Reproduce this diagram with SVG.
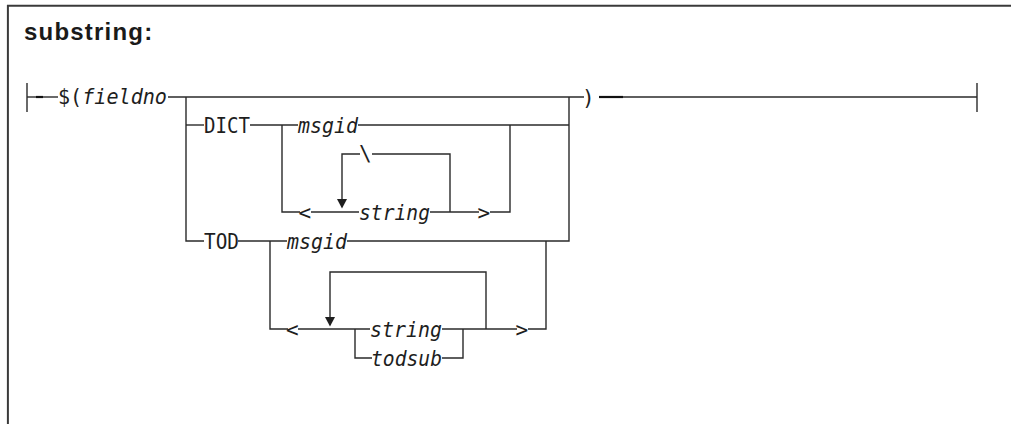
<svg xmlns="http://www.w3.org/2000/svg" width="1011" height="424" viewBox="0 0 1011 424">
<style>
.frame{stroke:#3a3a3a;stroke-width:2;fill:none}
.ln{stroke:#2a2a2a;stroke-width:1.4;fill:none}
.dash{stroke:#111;stroke-width:2.2;fill:none}
.t{font-family:"DejaVu Sans Mono","Liberation Mono",monospace;font-size:21px;fill:#1e1e1e}
.i{font-style:italic}
.title{font-family:"Liberation Sans",Arial,sans-serif;font-weight:bold;font-size:24px;letter-spacing:1.2px;fill:#1a1a1a}
.arr{fill:#1e1e1e}
</style>
<rect width="1011" height="424" fill="#fff"/>
<g id="frame">
<line class="frame" x1="7" y1="5.7" x2="1011" y2="5.7"/>
<line class="frame" x1="7.9" y1="5" x2="7.9" y2="424"/>
</g>
<g id="title"><text class="title" x="24" y="39.5">substring:</text></g>
<g id="connectors">
<line class="ln" x1="27" y1="83" x2="27" y2="112"/>
<line class="ln" x1="27" y1="97" x2="58" y2="97"/>
<line class="dash" x1="36" y1="97" x2="43" y2="97"/>
<line class="ln" x1="168" y1="97" x2="584" y2="97"/>
<line class="dash" x1="599" y1="97" x2="623" y2="97"/>
<line class="ln" x1="623" y1="97" x2="977" y2="97"/>
<line class="ln" x1="977" y1="83" x2="977" y2="112"/>
<polyline class="ln" points="186,97 186,241 204,241"/>
<polyline class="ln" points="569,97 569,241 347,241"/>
<line class="ln" x1="186" y1="125" x2="204" y2="125"/>
<line class="ln" x1="250" y1="125" x2="298" y2="125"/>
<line class="ln" x1="358" y1="125" x2="569" y2="125"/>
<polyline class="ln" points="282,125 282,212 300,212"/>
<line class="ln" x1="311" y1="212" x2="359" y2="212"/>
<line class="ln" x1="430" y1="212" x2="479" y2="212"/>
<polyline class="ln" points="490,212 510,212 510,125"/>
<polyline class="ln" points="342,199 342,154 360,154"/>
<polyline class="ln" points="372,154 450,154 450,212"/>
<polygon class="arr" points="337,199 347,199 342,208.5"/>
<line class="ln" x1="238" y1="241" x2="287" y2="241"/>
<polyline class="ln" points="270,241 270,329 288,329"/>
<line class="ln" x1="298" y1="329" x2="370" y2="329"/>
<polyline class="ln" points="355,329 355,358 372,358"/>
<polyline class="ln" points="442,358 463,358 463,329"/>
<line class="ln" x1="442" y1="329" x2="517" y2="329"/>
<polyline class="ln" points="528,329 546,329 546,241"/>
<polyline class="ln" points="330,317 330,272 486,272 486,329"/>
<polygon class="arr" points="325,317 335,317 330,326.5"/>
</g>
<g id="n-fieldno"><text class="t" x="58" y="104" textLength="109" lengthAdjust="spacingAndGlyphs">$(<tspan class="i">fieldno</tspan></text></g>
<g id="n-close"><text class="t" x="582" y="104.5">)</text></g>
<g id="n-dict"><text class="t" x="204" y="132.5" textLength="46" lengthAdjust="spacingAndGlyphs">DICT</text></g>
<g id="n-dict-msgid"><text class="t i" x="298" y="132.5" textLength="60" lengthAdjust="spacingAndGlyphs">msgid</text></g>
<g id="n-dict-backslash"><text class="t" x="359" y="161">\</text></g>
<g id="n-dict-lt"><text class="t" x="298.5" y="219.5">&lt;</text></g>
<g id="n-dict-string"><text class="t i" x="359" y="219.5" textLength="71" lengthAdjust="spacingAndGlyphs">string</text></g>
<g id="n-dict-gt"><text class="t" x="477.5" y="219.5">&gt;</text></g>
<g id="n-tod"><text class="t" x="204" y="248.5" textLength="35" lengthAdjust="spacingAndGlyphs">TOD</text></g>
<g id="n-tod-msgid"><text class="t i" x="287" y="248.5" textLength="60" lengthAdjust="spacingAndGlyphs">msgid</text></g>
<g id="n-tod-lt"><text class="t" x="286" y="336.5">&lt;</text></g>
<g id="n-tod-string"><text class="t i" x="370" y="336.5" textLength="72" lengthAdjust="spacingAndGlyphs">string</text></g>
<g id="n-tod-todsub"><text class="t i" x="371" y="365.5" textLength="71" lengthAdjust="spacingAndGlyphs">todsub</text></g>
<g id="n-tod-gt"><text class="t" x="515.5" y="336.5">&gt;</text></g>
</svg>
